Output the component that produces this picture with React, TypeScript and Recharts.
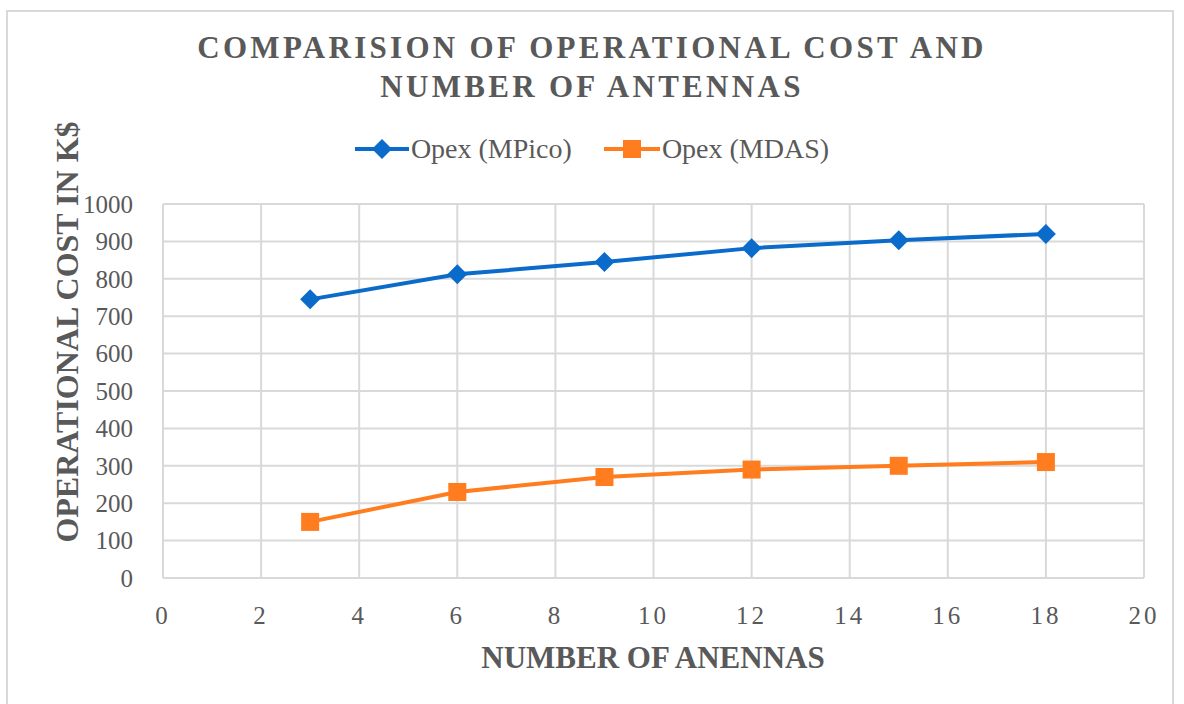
import React from "react";
import { LineChart, Line, XAxis, YAxis, CartesianGrid } from "recharts";

// ─── Data ─────────────────────────────────────────────────────────────────────

const antennas = [3, 6, 9, 12, 15, 18];
const opexMPico = [745, 812, 845, 882, 903, 920];
const opexMDAS = [150, 230, 270, 290, 300, 310];
const xTicks = [0, 2, 4, 6, 8, 10, 12, 14, 16, 18, 20];
const yTicks = [0, 100, 200, 300, 400, 500, 600, 700, 800, 900, 1000];

const data = antennas.map((n, i) => ({
    n,
    mpico: opexMPico[i],
    mdas: opexMDAS[i],
}));

const BLUE = "#0B6BCB";
const ORANGE = "#FF7D1F";
const TEXT = "#595959";
const SERIF = "Liberation Serif";

// ─── Markers ──────────────────────────────────────────────────────────────────

const Diamond = (props: any) => {
    const { cx, cy } = props;
    if (cx == null || cy == null) return null;
    const r = 10;
    return (
        <path
            d={`M${cx},${cy - r} L${cx + r},${cy} L${cx},${cy + r} L${cx - r},${cy} Z`}
            fill={BLUE}
        />
    );
};

const Square = (props: any) => {
    const { cx, cy } = props;
    if (cx == null || cy == null) return null;
    const s = 9;
    return <rect x={cx - s} y={cy - s} width={s * 2} height={s * 2} fill={ORANGE} />;
};

const ChartLegend = () => (
    <div
        style={{
            position: "absolute",
            left: 0,
            top: 133,
            width: 1184,
            display: "flex",
            justifyContent: "center",
            gap: 32,
            fontFamily: SERIF,
            fontSize: 28,
            color: TEXT,
        }}
    >
        <div style={{ display: "flex", alignItems: "center" }}>
            <svg width={54} height={24}>
                <line x1={0} y1={12} x2={54} y2={12} stroke={BLUE} strokeWidth={4} />
                <path d="M27,2 L37,12 L27,22 L17,12 Z" fill={BLUE} />
            </svg>
            <span style={{ marginLeft: 2 }}>Opex (MPico)</span>
        </div>
        <div style={{ display: "flex", alignItems: "center" }}>
            <svg width={56} height={24}>
                <line x1={0} y1={12} x2={56} y2={12} stroke={ORANGE} strokeWidth={4} />
                <rect x={19} y={3} width={18} height={18} fill={ORANGE} />
            </svg>
            <span style={{ marginLeft: 2 }}>Opex (MDAS)</span>
        </div>
    </div>
);

// ─── App ──────────────────────────────────────────────────────────────────────

export default function App() {
    const tick = { fontFamily: SERIF, fontSize: 25, fill: TEXT };
    return (
        <div
            style={{
                position: "absolute",
                left: 0,
                top: 0,
                width: 1184,
                height: 704,
                overflow: "hidden",
                background: "#fff",
                fontFamily: SERIF,
            }}
        >
            <div
                style={{
                    position: "absolute",
                    left: 6,
                    top: 10,
                    width: 1168,
                    height: 710,
                    border: "2px solid #d9d9d9",
                    boxSizing: "border-box",
                }}
            />
            <div
                style={{
                    position: "absolute",
                    left: 0,
                    top: 28,
                    width: 1184,
                    textAlign: "center",
                    fontFamily: SERIF,
                    fontWeight: "bold",
                    fontSize: 31,
                    letterSpacing: 3.3,
                    lineHeight: "39px",
                    color: TEXT,
                }}
            >
                COMPARISION OF OPERATIONAL COST AND
                <br />
                NUMBER OF ANTENNAS
            </div>
            <div
                style={{
                    position: "absolute",
                    left: 67,
                    top: 332,
                    transform: "translate(-50%, -50%) rotate(-90deg)",
                    whiteSpace: "nowrap",
                    fontFamily: SERIF,
                    fontWeight: "bold",
                    fontSize: 32,
                    color: TEXT,
                }}
            >
                OPERATIONAL COST IN K$
            </div>
            <div
                style={{
                    position: "absolute",
                    left: 653,
                    top: 658,
                    transform: "translate(-50%, -50%)",
                    whiteSpace: "nowrap",
                    fontFamily: SERIF,
                    fontWeight: "bold",
                    fontSize: 31,
                    color: TEXT,
                }}
            >
                NUMBER OF ANENNAS
            </div>
            <ChartLegend />
            <LineChart
                width={1184}
                height={704}
                data={data}
                margin={{ top: 204, right: 40, bottom: 86, left: 0 }}
                style={{ position: "absolute", left: 0, top: 0 }}
            >
                <CartesianGrid stroke="#d9d9d9" strokeWidth={2} />
                <XAxis
                    dataKey="n"
                    type="number"
                    domain={[0, 20]}
                    ticks={xTicks}
                    interval={0}
                    tick={{ ...tick, letterSpacing: 3 }}
                    axisLine={false}
                    tickLine={false}
                    tickMargin={22}
                    height={40}
                />
                <YAxis
                    type="number"
                    domain={[0, 1000]}
                    ticks={yTicks}
                    interval={0}
                    tick={tick}
                    axisLine={false}
                    tickLine={false}
                    tickMargin={24}
                    width={163}
                />
                <Line
                    dataKey="mpico"
                    stroke={BLUE}
                    strokeWidth={4}
                    dot={<Diamond />}
                    activeDot={false}
                    isAnimationActive={false}
                />
                <Line
                    dataKey="mdas"
                    stroke={ORANGE}
                    strokeWidth={4}
                    dot={<Square />}
                    activeDot={false}
                    isAnimationActive={false}
                />
            </LineChart>
        </div>
    );
}
